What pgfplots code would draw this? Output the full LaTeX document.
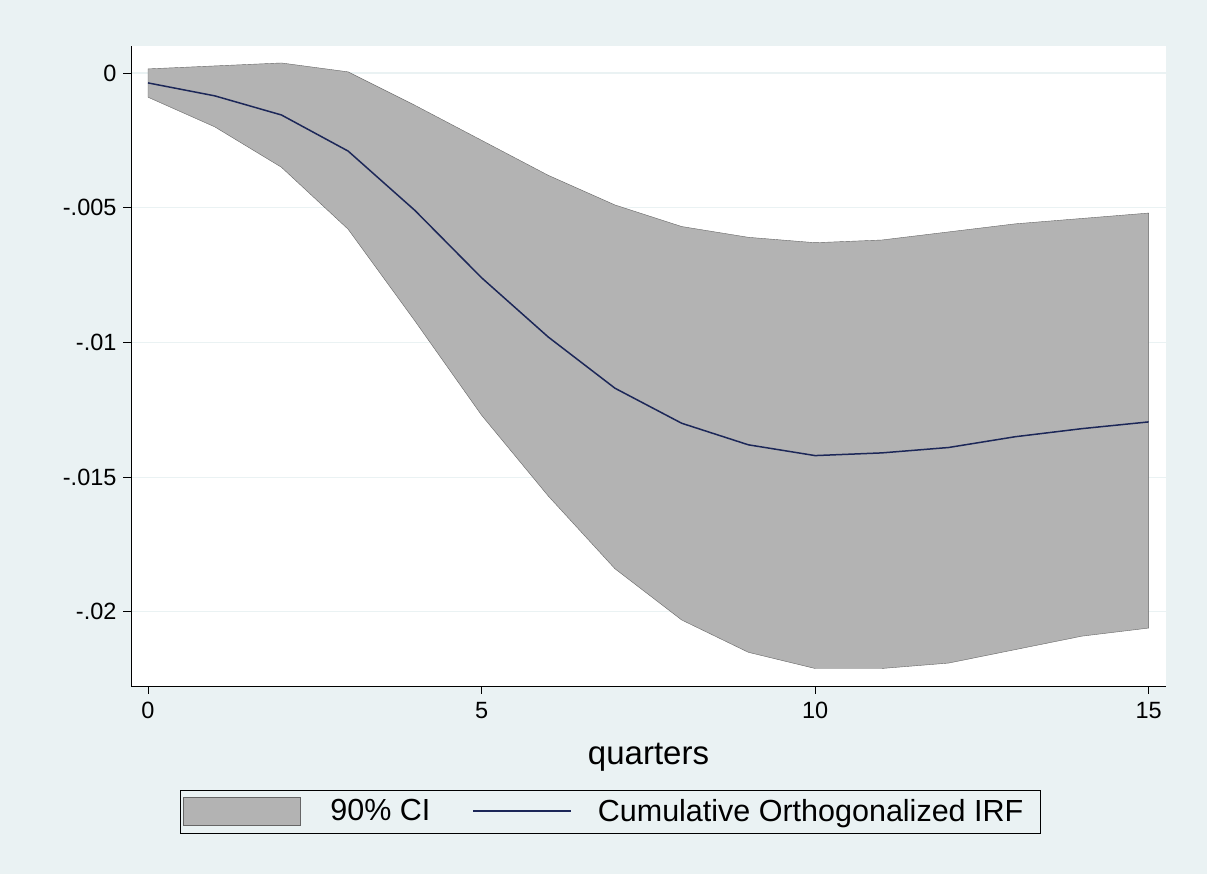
\documentclass[border=0pt]{standalone}
\usepackage{pgfplots}
\pgfplotsset{compat=1.18}
\usepackage{fontspec}
\setmainfont{Liberation Sans}
\definecolor{bg}{HTML}{EAF2F3}
\definecolor{ci}{HTML}{B3B3B3}
\definecolor{navy}{HTML}{1C2758}
\begin{document}
\begin{tikzpicture}[x=1pt,y=1pt]
\fill[bg] (0,0) rectangle (1207,874);
\useasboundingbox (0,0) rectangle (1207,874);
\fill[white] (131,188) rectangle (1166,828);
\draw[black,line width=0.8pt] (180,41) rectangle (1040,84);
\begin{axis}[at={(131pt,188pt)},anchor=south west,scale only axis,
 width=1035pt,height=640pt,
 xmin=-0.255,xmax=15.26,ymin=-0.02275,ymax=0.001,
 scaled y ticks=false,
 axis lines*=left, axis line style={black,line width=0.8pt},
 xtick={0,5,10,15}, ytick={-0.02,-0.015,-0.01,-0.005,0},
 yticklabels={-.02,-.015,-.01,-.005,0},
 tick align=outside, major tick length=8pt, tick style={black,line width=0.8pt},
 ymajorgrids, grid style={bg,line width=1.2pt},
 ticklabel style={font=\fontsize{23.5}{25}\selectfont},
 xticklabel style={yshift=-5pt},
 yticklabel style={xshift=-3pt},
 /pgf/number format/assume math mode=true,
 xlabel={quarters}, xlabel style={font=\fontsize{33}{35}\selectfont,
   at={(axis description cs:0.5,-0.111)},anchor=center},
 legend columns=2,
 legend style={at={(0.05,-0.195)},anchor=west,draw=none,fill=none,inner sep=0pt,
   font=\fontsize{30.5}{32}\selectfont, nodes={inner xsep=0pt},
   /tikz/every even column/.style={column sep=0pt},
   /tikz/every odd column/.style={column sep=0pt}},
 legend cell align=left,
 clip=false]
\addplot[fill=ci,draw=gray!80!black,line width=0.4pt,area legend,
  legend image code/.code={\fill[ci,draw=gray!80!black] (0pt,-14pt) rectangle (117pt,14pt);}]
 table{
x y
0 0.00015
1 0.00026
2 0.00037
3 0.00004
4 -0.0012
5 -0.0025
6 -0.0038
7 -0.0049
8 -0.0057
9 -0.0061
10 -0.0063
11 -0.0062
12 -0.0059
13 -0.0056
14 -0.0054
15 -0.0052
15 -0.0206
14 -0.0209
13 -0.0214
12 -0.0219
11 -0.0221
10 -0.0221
9 -0.0215
8 -0.0203
7 -0.0184
6 -0.0157
5 -0.0127
4 -0.0092
3 -0.0058
2 -0.0035
1 -0.0020
0 -0.0009
} \closedcycle;
\addlegendentry{\hspace*{30pt}90\% CI\hspace*{42pt}}
\addplot[navy,line width=1.5pt,mark=none,
  legend image code/.code={\draw[navy,line width=1.5pt] (0pt,0pt) -- (98pt,0pt);}]
 table{
x y
0 -0.00037
1 -0.00085
2 -0.00156
3 -0.0029
4 -0.0051
5 -0.0076
6 -0.0098
7 -0.0117
8 -0.0130
9 -0.0138
10 -0.0142
11 -0.0141
12 -0.0139
13 -0.0135
14 -0.0132
15 -0.01295
};
\addlegendentry{\hspace*{26pt}Cumulative Orthogonalized IRF}
\end{axis}
\end{tikzpicture}
\end{document}
